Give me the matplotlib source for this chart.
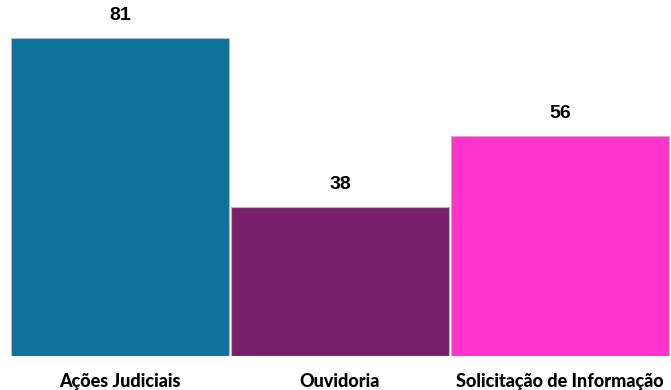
import matplotlib.pyplot as plt

# data
categorias = ['Ações Judiciais', 'Ouvidoria', 'Solicitação de Informação']
valores = [81, 38, 56]
cores = ['#0E729C', '#78206C', '#FF33CC']

W, H = 671, 390
fig = plt.figure(figsize=(W / 100, H / 100), dpi=100)
# axes placed in pixel coords: x 10..670, y 38..356 (from top)
ax = fig.add_axes([10 / W, (H - 356) / H, 660 / W, (356 - 38) / H])

x = range(len(categorias))
barras = ax.bar(x, valores, width=0.99, color=cores, edgecolor='#b8b8b8', linewidth=0.8)

ax.set_xlim(-0.5, len(categorias) - 0.5)
ax.set_ylim(0, max(valores))

for xi, v in zip(x, valores):
    ax.annotate(str(v), (xi, v), xytext=(0, 10), textcoords='offset points',
                ha='center', va='bottom', fontsize=14, fontweight='bold',
                family='Liberation Sans', clip_on=False)

ax.set_xticks(list(x))
ax.set_xticklabels(categorias, fontsize=13, fontweight='black', family='Lato')
ax.tick_params(axis='x', length=0, pad=12)
ax.set_yticks([])
for s in ax.spines.values():
    s.set_visible(False)

plt.savefig('out.png', dpi=100)
